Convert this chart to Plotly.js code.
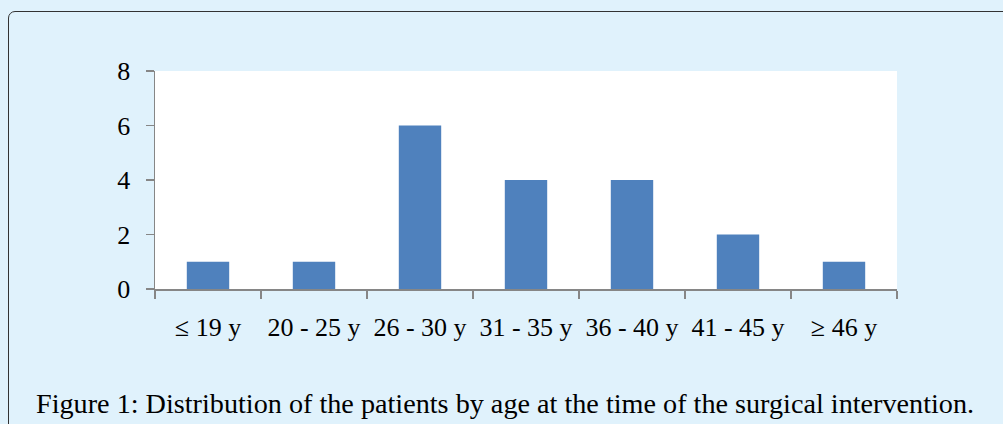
<!DOCTYPE html>
<html>
<head>
<meta charset="utf-8">
<script src="https://cdn.plot.ly/plotly-3.0.1.min.js"></script>
<style>
html,body{margin:0;padding:0;background:#e0f2fc;overflow:hidden;}
#frame{position:absolute;left:8px;top:11px;width:1100px;height:500px;border:1.5px solid #333;border-top-left-radius:7px;box-sizing:border-box;}
#chart{position:absolute;left:0;top:0;width:1003px;height:424px;}
</style>
</head>
<body>
<div id="frame"></div>
<div id="chart"></div>
<script>
const categories = ["≤ 19 y", "20 - 25 y", "26 - 30 y", "31 - 35 y", "36 - 40 y", "41 - 45 y", "≥ 46 y"];
const patients = [1, 1, 6, 4, 4, 2, 1];
const yTicks = [0, 2, 4, 6, 8];
const caption = "Figure 1: Distribution of the patients by age at the time of the surgical intervention.";

const fontFam = "Liberation Serif, DejaVu Serif, serif";

Plotly.newPlot("chart", [{
  type: "bar",
  x: categories,
  y: patients,
  marker: {color: "#4f81bd", line: {width: 0}},
  width: 0.4,
  hoverinfo: "none"
}], {
  width: 1003, height: 424,
  margin: {l: 155, r: 106, t: 71, b: 135},
  paper_bgcolor: "rgba(0,0,0,0)",
  plot_bgcolor: "#ffffff",
  showlegend: false,
  font: {family: fontFam, color: "#000", size: 26},
  xaxis: {
    type: "category",
    showgrid: false,
    showline: true, linecolor: "#868686", linewidth: 1.5,
    ticks: "outside", tickson: "boundaries", ticklen: 8, tickcolor: "#868686", tickwidth: 1.5,
    tickfont: {family: fontFam, size: 26, color: "#000"},
    ticklabelstandoff: 14,
    fixedrange: true
  },
  yaxis: {
    range: [0, 8],
    tickvals: yTicks,
    showgrid: false, zeroline: false,
    showline: true, linecolor: "#868686", linewidth: 1.5,
    ticks: "outside", ticklen: 8, tickcolor: "#868686", tickwidth: 1.5,
    tickfont: {family: fontFam, size: 26, color: "#000"},
    ticklabelstandoff: 10,
    fixedrange: true
  },
  annotations: [{
    text: caption,
    xref: "paper", yref: "paper",
    x: -0.163, y: -0.523,
    xanchor: "left", yanchor: "middle",
    showarrow: false,
    font: {family: fontFam, size: 28.2, color: "#000"}
  }]
}, {displayModeBar: false, staticPlot: true});
</script>
</body>
</html>
